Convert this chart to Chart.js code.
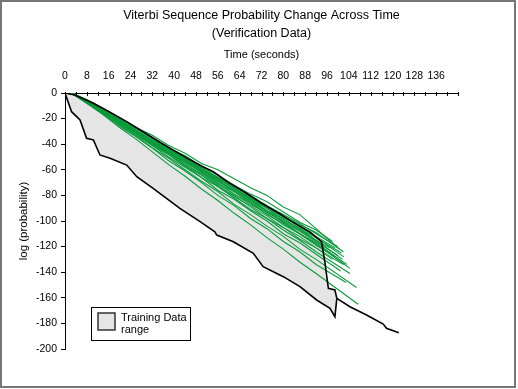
<!DOCTYPE html>
<html>
<head>
<meta charset="utf-8">
<script src="https://cdn.jsdelivr.net/npm/chart.js@4.4.0/dist/chart.umd.min.js"></script>
<style>
  body { margin: 0; background: #fff; }
  #chart { display: block; }
</style>
</head>
<body>
<canvas id="chart" width="518" height="389"></canvas>
<script>
// training range edges (time in seconds, log probability)
const upperX = [0, 3.6, 10.4, 16, 22.6, 28, 34.8, 40, 45.2, 50, 54.3, 60, 66.6, 72, 78.8, 82.4, 86, 89.7, 94, 95.2, 96.5, 98.9, 99.6];
const upperY = [0, -1.6, -8, -14.5, -22.4, -29.5, -38.5, -45, -51.5, -57, -61.5, -70, -78.5, -86, -94.5, -99.5, -104, -108.5, -116.2, -131.8, -152.6, -153.9, -160.4];
const lowerX = [0, 2.4, 5.5, 7.9, 10.4, 12.8, 16.5, 22.6, 26.3, 32.3, 42.1, 49.5, 54.9, 55.6, 61.7, 69, 72.6, 80, 86.1, 92.2, 97.1, 98.9, 99.6];
const lowerY = [0, -14.6, -21, -35.4, -36.7, -48.4, -51, -56.3, -65.4, -74.5, -90.1, -100.5, -108.4, -111, -116.2, -125.2, -135.7, -143.5, -151.3, -161.7, -168.2, -174.8, -160.4];
const tailX = [99.6, 104.4, 110.5, 116.6, 117.8, 122.3];
const tailY = [-160.4, -167, -173.4, -180.5, -183.8, -187.3];

// verification sequences
const greenX = [0, 3, 8, 14, 20, 26, 32, 38, 44, 50, 56, 62, 68, 74, 80, 86, 92];
const greenY = [
  [0, -0.5, -5, -12, -20, -27, -33, -41, -47, -55, -60, -67, -74, -80, -89, -95, -106],
  [0, -0.5, -6, -13, -21, -27, -35, -43, -49, -57, -64, -72, -79, -85, -93, -101, -107],
  [0, -1, -7, -14, -21, -28, -35, -43, -51, -58, -66, -73, -80, -88, -95, -102, -110],
  [0, -0.5, -6, -14, -20, -29, -36, -44, -51, -59, -66, -72, -81, -88, -96, -103, -109],
  [0, -1, -6, -13, -22, -29, -37, -44, -52, -59, -66, -74, -82, -89, -96, -105, -112],
  [0, -0.5, -7, -14, -21, -30, -37, -44, -52, -60, -67, -75, -82, -90, -97, -104, -113],
  [0, -1, -6, -14, -22, -29, -38, -45, -52, -61, -67, -75, -83, -90, -99, -106, -113],
  [0, -0.5, -7, -15, -22, -30, -37, -46, -53, -60, -69, -76, -83, -92, -98, -106, -115],
  [0, -1, -7, -14, -23, -30, -38, -45, -54, -61, -68, -77, -84, -92, -100, -107, -115],
  [0, -0.5, -6, -14, -22, -31, -38, -46, -53, -62, -69, -77, -85, -92, -101, -108, -116],
  [0, -1, -7, -15, -22, -30, -39, -46, -54, -62, -71, -77, -86, -93, -101, -110, -117],
  [0, -0.5, -7, -15, -23, -30, -38, -47, -54, -62, -70, -79, -86, -95, -102, -110, -119],
  [0, -1, -7, -15, -23, -31, -39, -47, -56, -63, -71, -79, -87, -94, -103, -110, -118],
  [0, -0.5, -7, -16, -23, -31, -40, -47, -55, -64, -72, -81, -88, -96, -105, -112, -121],
  [0, -1, -7, -15, -24, -31, -40, -48, -57, -64, -73, -80, -89, -98, -105, -114, -121],
  [0, -0.5, -7, -15, -24, -32, -41, -48, -57, -66, -73, -82, -91, -98, -107, -115, -124],
  [0, -1, -8, -16, -24, -33, -41, -50, -58, -66, -76, -83, -92, -100, -110, -117, -126],
  [0, -0.5, -7, -16, -25, -34, -43, -51, -60, -69, -77, -87, -95, -104, -112, -122, -130],
  [0, -1, -8, -16, -26, -34, -43, -53, -61, -70, -80, -88, -98, -106, -116, -124, -134],
  [0, -1, -8, -17, -27, -36, -46, -56, -65, -75, -84, -94, -103, -113, -122, -132, -141]
];
const greenEndX = [100.5, 98, 100, 102, 99, 101.3, 102.2, 97, 101.7, 100, 103.2, 99, 104.4, 102, 98, 104.4, 101, 106.8, 103, 107.4];
const greenEndY = [-122, -116, -120, -124, -121, -125, -128, -121, -130, -127, -134, -128, -137, -134, -130, -141, -139, -152, -148, -165];

const xLabelValues = [0, 8, 16, 24, 32, 40, 48, 56, 64, 72, 80, 88, 96, 104, 112, 120, 128, 136];
const legendLabel = ['Training Data', 'range'];

const FONT = "'Liberation Sans', Arial, sans-serif";

function pts(xs, ys) {
  return xs.map((x, i) => ({ x: x, y: ys[i] }));
}

const datasets = [
  { data: pts(upperX, upperY), borderColor: '#000', borderWidth: 1.6, fill: '+1', backgroundColor: '#e5e5e5' },
  { data: pts(lowerX, lowerY), borderColor: '#000', borderWidth: 1.6, fill: false },
  { data: pts(tailX, tailY), borderColor: '#000', borderWidth: 1.6, fill: false }
];
greenY.forEach((ys, i) => {
  const d = pts(greenX, ys);
  d.push({ x: greenEndX[i], y: greenEndY[i] });
  datasets.push({ data: d, borderColor: '#0b9b3c', borderWidth: 1.1, fill: false });
});

// ticks on the top axis point down into the plot
const innerTicks = {
  id: 'innerTicks',
  afterDraw(chart) {
    const s = chart.scales.x, c = chart.ctx;
    c.save();
    c.strokeStyle = '#000';
    c.lineWidth = 1;
    c.beginPath();
    s.ticks.forEach(t => {
      const px = Math.round(s.getPixelForValue(t.value)) + 0.5;
      c.moveTo(px, s.bottom - 1);
      c.lineTo(px, s.bottom + 3);
    });
    c.stroke();
    c.restore();
  }
};

const legendBox = {
  id: 'legendBox',
  afterDraw(chart) {
    const a = chart.chartArea, c = chart.ctx;
    const x = a.left + 26, y = a.bottom - 42;
    c.save();
    c.fillStyle = '#fff';
    c.fillRect(x, y, 99, 33);
    c.strokeStyle = '#000';
    c.lineWidth = 1;
    c.strokeRect(x + 0.5, y + 0.5, 99, 33);
    c.fillStyle = '#e5e5e5';
    c.fillRect(x + 7, y + 6, 17, 17);
    c.strokeStyle = '#333';
    c.lineWidth = 1.5;
    c.strokeRect(x + 7, y + 6, 17, 17);
    c.fillStyle = '#000';
    c.font = '11px ' + FONT;
    c.textBaseline = 'middle';
    c.fillText(legendLabel[0], x + 30, y + 11);
    c.fillText(legendLabel[1], x + 30, y + 23);
    c.restore();
  }
};

const frame = {
  id: 'frame',
  afterDraw(chart) {
    const c = chart.ctx;
    c.save();
    c.strokeStyle = '#777';
    c.lineWidth = 2;
    c.strokeRect(1, 1, 514, 386);
    c.restore();
  }
};

new Chart(document.getElementById('chart'), {
  type: 'line',
  data: { datasets: datasets },
  options: {
    responsive: false,
    animation: false,
    devicePixelRatio: 1,
    layout: { padding: { left: 0, right: 60, top: 0, bottom: 40 } },
    elements: { point: { radius: 0 }, line: { tension: 0 } },
    plugins: {
      legend: { display: false },
      tooltip: { enabled: false },
      filler: { drawTime: 'beforeDatasetsDraw' },
      title: {
        display: true,
        fullSize: false,
        text: ['Viterbi Sequence Probability Change Across Time', '(Verification Data)'],
        color: '#000',
        font: { family: FONT, size: 12.5, weight: 'normal', lineHeight: 1.44 },
        padding: { top: 7, bottom: 1 }
      }
    },
    scales: {
      x: {
        type: 'linear',
        position: 'top',
        min: 0,
        max: 144,
        afterFit(scale) { scale.height = 49; },
        grid: { display: false, drawTicks: false },
        border: { display: true, color: '#000', width: 1 },
        ticks: {
          stepSize: 4,
          autoSkip: false,
          maxRotation: 0,
          padding: 11,
          color: '#000',
          font: { family: FONT, size: 10.5 },
          callback: v => xLabelValues.includes(v) ? String(v) : ''
        },
        title: {
          display: true,
          text: 'Time (seconds)',
          color: '#000',
          font: { family: FONT, size: 11 },
          padding: { top: 4, bottom: 0 }
        }
      },
      y: {
        min: -200,
        max: 0,
        afterFit(scale) { scale.width = 65; },
        grid: { drawOnChartArea: false, drawTicks: true, tickLength: 4, color: '#000' },
        border: { display: true, color: '#000', width: 1 },
        ticks: {
          stepSize: 20,
          padding: 4,
          color: '#000',
          font: { family: FONT, size: 10.5 }
        },
        title: {
          display: true,
          text: 'log (probability)',
          color: '#000',
          font: { family: FONT, size: 11.5 },
          padding: { top: 17, bottom: 0 }
        }
      }
    }
  },
  plugins: [innerTicks, legendBox, frame]
});
</script>
</body>
</html>
